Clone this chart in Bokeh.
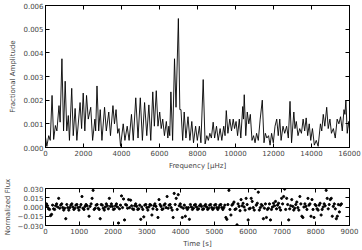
import numpy as np
from bokeh.plotting import figure
from bokeh.models import LinearAxis, FixedTicker, CustomJSTickFormatter, Range1d, ColumnDataSource
from bokeh.layouts import column
from bokeh.embed import file_html
from bokeh.resources import INLINE

# ---- amplitude spectrum (frequency in microHz, amplitude in units of 1e-4) ----
freq_uhz = [0, 70, 170, 250, 345, 430, 520, 600, 710, 770, 865, 950, 1036, 1120, 1200, 1260, 1380, 1460,
            1560, 1650, 1820, 1900, 1985, 2070, 2160, 2250, 2380, 2480, 2600, 2640, 2710, 2800, 2880, 2970,
            3108, 3200, 3330, 3420, 3550, 3630, 3713, 3800, 3870, 3950, 4090, 4180, 4300, 4400, 4525, 4620,
            4750, 4870, 4990, 5100, 5215, 5330, 5440, 5540, 5646, 5730, 5830, 5920, 6010, 6090, 6170, 6260,
            6360, 6440, 6490, 6540, 6600, 6690, 6790, 6870, 6993, 7070, 7130, 7220, 7300, 7390, 7500, 7600,
            7700, 7790, 7900, 7990, 8100, 8180, 8300, 8400, 8490, 8570, 8650, 8730, 8825, 8900, 9000, 9090,
            9190, 9280, 9380, 9450, 9515, 9600, 9700, 9790, 9880, 9950, 10030, 10110, 10200, 10280, 10380,
            10420, 10460, 10540, 10620, 10700, 10780, 10870, 10950, 11030, 11110, 11200, 11300, 11410, 11500,
            11570, 11650, 11740, 11820, 11900, 11990, 12080, 12170, 12250, 12330, 12400, 12500, 12590, 12690,
            12780, 12870, 12950, 13070, 13130, 13200, 13290, 13380, 13470, 13560, 13640, 13720, 13800, 13880,
            13960, 14050, 14150, 14250, 14350, 14470, 14540, 14620, 14700, 14800, 14880, 14970, 15050, 15150,
            15250, 15350, 15440, 15530, 15620, 15710, 15760, 15810, 15880, 15960, 16000]
amp_e4 = [4.4, 0.5, 5, 3, 22, 3.4, 9.3, 7, 17.7, 10.7, 37.5, 7, 28, 7, 13.5, 3, 25, 5,
          16.5, 3, 19, 8, 23, 7, 22, 12, 17, 3, 12, 7, 26, 7, 16, 3,
          17, 7, 15, 5, 17.7, 10, 16, 6, 8, 0.5, 10, 3, 9, 3, 14, 3,
          21, 4, 21, 3, 19, 5, 18, 3, 23.5, 9, 24, 9, 15, 8, 12, 5,
          11, 4, 9, 5, 23.5, 3, 37.5, 17, 54.5, 16, 16, 3, 15, 4, 13, 3,
          11, 2, 9, 3, 9, 2, 28.7, 1.5, 5, 3, 6, 4, 10.7, 4, 9, 3,
          8, 3, 9, 5, 15.6, 6, 12, 7, 12, 8, 11, 5, 12, 4, 17.3,
          12, 22.3, 5, 15, 10, 14, 3, 5, 2, 6, 3, 12, 20, 2,
          6, 4, 5, 1, 6, 2, 9, 12, 5, 12, 3, 9, 6, 9,
          4, 19.5, 2, 15, 8, 11, 5, 8, 6, 12, 7, 12.5, 5, 10,
          3, 8, 1, 3, 0.5, 10, 7, 14, 9, 17, 8, 12, 6, 8,
          4, 12, 10, 13, 7, 16, 14, 20, 6, 11, 8]
amp = [a * 1e-4 for a in amp_e4]

# ---- light curve (30 s cadence, flux in units of 1e-3) ----
cadence_s = 30
flux_e3 = [1, 5, 2, -3, -4, -14, -12, 3, -3, -4,
           2, 5, 0, 14, -2, 3, 5, -1, -5, -2,
           -19, 4, -1, -5, -1, 3, 5, 0, -4, -2,
           3, 4, -1, -5, 0, 4, 17, -2, -4, 1,
           4, 2, -3, -15, 1, 5, 14, 27, -4, -2,
           3, 4, -2, -4, -19, 4, 3, -2, -5, 0,
           5, 2, -3, 14, 1, 5, 1, -4, -3, 2,
           5, 0, -26, -3, 3, 18, -1, 13, -21, 4,
           3, -2, 12, -1, 11, 2, -3, -4, 2, 5,
           1, -4, -3, 3, -20, 0, -4, -16, 3, 4,
           -1, -5, 0, 4, 3, -13, -3, 2, 5, 1,
           -4, -17, 12, 4, 1, -4, -3, 3, 5, -1,
           17, -2, 3, 4, -1, -5, -17, 22, 4, 14,
           -4, 20, 2, 5, 0, -17, -2, 3, -15, -1,
           -4, -1, -20, 4, 0, -4, -2, 3, 4, 0,
           -4, -3, 2, 4, 1, -4, -3, 2, 4, 0,
           -4, -2, 3, 4, -1, -4, -2, 3, 4, -1,
           -4, -1, 3, 4, -1, -4, -1, 3, -17, -20,
           4, 27, -4, -13, 3, 5, 8, -4, -3, -29,
           5, 1, -6, 12, 2, 6, 0, -5, 14, 4,
           -21, -3, -2, 14, 9, -1, -5, 30, 3, 6,
           24, -5, -1, 4, 2, -19, -2, 5, -17, -4,
           -2, 5, -21, -4, 0, 6, 2, 9, -3, 3,
           6, -1, -5, 14, 5, 17, 29, -4, 14, 4,
           -21, -3, 2, 12, 1, -5, -2, 4, 8, -1,
           -5, 17, 5, -15, -17, 0, 5, 1, -4, 14,
           3, 5, -15, 12, -4, -17, 4, 2, -3, -5,
           3, 6, -13, -4, 0, 5, 2, 27, 14, -3,
           4, 12, 14, -15, 1, 5, -3, -19, -15, 4,
           -8, 3, 5]
time_s = [i * cadence_s for i in range(len(flux_e3))]
flux = [f * 1e-3 for f in flux_e3]

top_xticks = [0, 2000, 4000, 6000, 8000, 10000, 12000, 14000, 16000]
top_yticks = [0.0, 0.001, 0.002, 0.003, 0.004, 0.005, 0.006]
bot_xticks = [0, 1000, 2000, 3000, 4000, 5000, 6000, 7000, 8000, 9000]
bot_yticks = [-0.03, -0.015, 0.0, 0.015, 0.03]

FONT = "DejaVu Sans"
FS = "7px"
fmt3 = CustomJSTickFormatter(code="return tick.toFixed(3).replace('-', '\u2212');")
fmt0 = CustomJSTickFormatter(code="return tick.toFixed(0);")
fmt_blank = CustomJSTickFormatter(code="return '';")


def style_axis(ax, show_labels):
    ax.axis_line_color = "black"
    ax.major_tick_in = 4
    ax.major_tick_out = 0
    ax.minor_tick_in = 2
    ax.minor_tick_out = 0
    ax.major_tick_line_color = "black"
    ax.minor_tick_line_color = "black"
    ax.major_label_text_font = FONT
    ax.axis_label_text_font = FONT
    ax.axis_label_text_font_style = "normal"
    ax.axis_label_text_font_size = FS
    ax.major_label_text_font_size = FS
    ax.major_label_standoff = 2
    ax.axis_label_standoff = 3
    if not show_labels:
        ax.formatter = fmt_blank
        ax.major_label_standoff = 0


def make_fig(h, xr, yr, xt, yt, xminor, xfmt, yfmt, xlabel, ylabel, btop, bbot):
    p = figure(width=362, height=h, x_range=xr, y_range=yr, output_backend="svg",
               toolbar_location=None, min_border_left=40, min_border_right=13,
               min_border_top=btop, min_border_bottom=bbot)
    p.grid.visible = False
    p.outline_line_color = "black"
    p.background_fill_color = "white"
    p.border_fill_color = "white"
    for ax in p.xaxis:
        ax.ticker = FixedTicker(ticks=xt, num_minor_ticks=xminor)
        ax.formatter = xfmt
        ax.axis_label = xlabel
        style_axis(ax, True)
    for ax in p.yaxis:
        ax.ticker = FixedTicker(ticks=yt, num_minor_ticks=0)
        ax.formatter = yfmt
        ax.axis_label = ylabel
        style_axis(ax, True)
    ta = LinearAxis(ticker=FixedTicker(ticks=xt, num_minor_ticks=xminor))
    style_axis(ta, False)
    p.add_layout(ta, "above")
    ra = LinearAxis(ticker=FixedTicker(ticks=yt, num_minor_ticks=0))
    style_axis(ra, False)
    p.add_layout(ra, "right")
    return p


p1 = make_fig(172, Range1d(0, 16000), Range1d(0, 0.006), top_xticks, top_yticks, 4,
              fmt0, fmt3, "Frequency [\u03bcHz]", "Fractional Amplitude", 5, 25)
p1.line(x="f", y="a", source=ColumnDataSource(dict(f=freq_uhz, a=amp)),
        line_color="black", line_width=0.9)

p2 = make_fig(78, Range1d(0, 9000), Range1d(-0.03, 0.03), bot_xticks, bot_yticks, 5,
              fmt0, fmt3, "Time [s]", "Normalized Flux", 16, 23)
p2.scatter(x="t", y="fl", source=ColumnDataSource(dict(t=time_s, fl=flux)),
           size=2.2, color="black")

layout = column(p1, p2, spacing=0)
open("out.html", "w").write(file_html(layout, INLINE))
